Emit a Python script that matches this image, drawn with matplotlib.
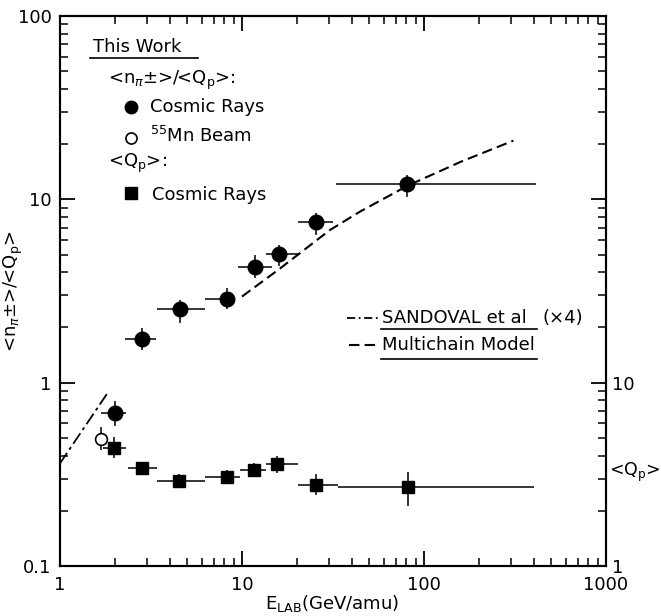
import matplotlib
matplotlib.use("Agg")
import matplotlib.pyplot as plt
from matplotlib.ticker import LogLocator, NullFormatter, FixedLocator, FixedFormatter
import numpy as np

# ---------------- data ----------------
# <n_pi±>/<Qp>, cosmic rays (filled circles)
circ_x = [2.0, 2.82, 4.57, 8.3, 11.8, 15.9, 25.5, 81.0]
circ_y = [0.685, 1.72, 2.52, 2.87, 4.29, 5.04, 7.56, 12.1]
circ_xlo = [1.69, 2.28, 3.4, 6.3, 9.45, 13.5, 20.4, 33.0]
circ_xhi = [2.3, 3.37, 6.26, 9.2, 14.6, 20.8, 31.5, 410.0]
circ_ylo = [0.582, 1.51, 2.12, 2.52, 3.74, 4.33, 6.4, 10.35]
circ_yhi = [0.795, 1.99, 2.83, 3.29, 4.97, 5.64, 8.45, 13.6]

# 55Mn beam (open circle)
mn_x = [1.67]
mn_y = [0.493]
mn_ylo = [0.43]
mn_yhi = [0.574]

# <Qp>, cosmic rays (filled squares)
sq_x = [1.99, 2.81, 4.5, 8.24, 11.6, 15.5, 25.5, 82.0]
sq_y = [0.438, 0.344, 0.292, 0.307, 0.334, 0.36, 0.277, 0.271]
sq_xlo = [1.73, 2.37, 3.4, 6.26, 9.73, 13.5, 20.4, 33.8]
sq_xhi = [2.3, 3.4, 6.26, 9.73, 13.5, 20.4, 33.8, 404.0]
sq_ylo = [0.39, 0.314, 0.266, 0.28, 0.307, 0.32, 0.244, 0.213]
sq_yhi = [0.507, 0.37, 0.316, 0.334, 0.366, 0.4, 0.316, 0.325]

# Multichain model (dashed)
mc_x = [10.0, 16.2, 30.4, 44.5, 81.7, 161.0, 310.0]
mc_y = [2.95, 4.2, 6.8, 8.57, 11.9, 16.1, 20.9]

# Sandoval et al (x4) (dash-dot)
sd_x = [1.0, 1.83]
sd_y = [0.363, 0.882]

x_ticks = [1, 10, 100, 1000]
x_ticklabels = ["1", "10", "100", "1000"]
yl_ticks = [0.1, 1, 10, 100]
yl_ticklabels = ["0.1", "1", "10", "100"]
yr_ticks = [1, 10, 100]
yr_ticklabels = ["1", "10", ""]

# ---------------- figure ----------------
plt.rcParams['font.family'] = ['DejaVu Sans']
plt.rcParams['mathtext.fontset'] = 'dejavusans'
FS = 13
DASH = (5, 2.5)
DASHDOT = (7, 2.2, 1.7, 2.2)

W, H = 661, 616
fig = plt.figure(figsize=(W / 100, H / 100), dpi=100)
L, R, T, B = 60, 606, 16, 566
ax = fig.add_axes([L / W, (H - B) / H, (R - L) / W, (B - T) / H])

def ax_xy(px, py):
    return ((px - L) / (R - L), (B - py) / (B - T))

ax.set_xscale('log')
ax.set_yscale('log')
ax.set_xlim(1, 1000)
ax.set_ylim(0.1, 100)

def errs(v, lo, hi):
    v = np.asarray(v); lo = np.asarray(lo); hi = np.asarray(hi)
    return [v - lo, hi - v]

ekw = dict(ecolor='black', elinewidth=1.1, capsize=0, linestyle='none', color='black')

ax.errorbar(circ_x, circ_y, xerr=errs(circ_x, circ_xlo, circ_xhi),
            yerr=errs(circ_y, circ_ylo, circ_yhi), marker='o', ms=10.5,
            mfc='black', mec='black', **ekw)
ax.errorbar(mn_x, mn_y, yerr=errs(mn_y, mn_ylo, mn_yhi), marker='o', ms=8.5,
            mfc='white', mec='black', mew=1.2, **ekw)
ax.errorbar(sq_x, sq_y, xerr=errs(sq_x, sq_xlo, sq_xhi),
            yerr=errs(sq_y, sq_ylo, sq_yhi), marker='s', ms=9,
            mfc='black', mec='black', **ekw)

ax.plot(mc_x, mc_y, color='black', lw=1.5, dashes=DASH)
ax.plot(sd_x, sd_y, color='black', lw=1.3, dashes=DASHDOT)

# ---------------- axes styling ----------------
for s in ax.spines.values():
    s.set_linewidth(1.5)

ax.xaxis.set_major_locator(FixedLocator(x_ticks))
ax.xaxis.set_major_formatter(FixedFormatter(x_ticklabels))
ax.xaxis.set_minor_locator(LogLocator(base=10, subs=np.arange(2, 10)))
ax.xaxis.set_minor_formatter(NullFormatter())
ax.yaxis.set_major_locator(FixedLocator(yl_ticks))
ax.yaxis.set_major_formatter(FixedFormatter(yl_ticklabels))
ax.yaxis.set_minor_locator(LogLocator(base=10, subs=np.arange(2, 10)))
ax.yaxis.set_minor_formatter(NullFormatter())

ax.tick_params(which='both', direction='in', top=True, right=False, labelsize=FS)
ax.tick_params(which='major', length=11, width=1.3)
ax.tick_params(which='minor', length=6, width=1.1)
ax.tick_params(axis='x', pad=7)
ax.tick_params(axis='y', pad=6)

ax2 = ax.twinx()
ax2.set_yscale('log')
ax2.set_ylim(1, 1000)
ax2.yaxis.set_major_locator(FixedLocator(yr_ticks))
ax2.yaxis.set_major_formatter(FixedFormatter(yr_ticklabels))
ax2.yaxis.set_minor_locator(LogLocator(base=10, subs=np.arange(2, 10)))
ax2.yaxis.set_minor_formatter(NullFormatter())
ax2.tick_params(which='both', direction='in', labelsize=FS, pad=4)
ax2.tick_params(which='major', length=11, width=1.3)
ax2.tick_params(which='minor', length=6, width=1.1)
for s in ax2.spines.values():
    s.set_linewidth(1.5)

# axis labels
ax.set_ylabel('<n$_{\\pi}$±>/<Q$_{\\rm p}$>', fontsize=FS)
ax.yaxis.label.set_va('center')
ax.yaxis.set_label_coords((13 - L) / (R - L), 0.5)
ax.text(*ax_xy(609, 472), '<Q$_{\\rm p}$>', transform=ax.transAxes,
        fontsize=FS - 0.5, ha='left', va='center')
fig.text(332 / W, (H - 604) / H, 'E$_{\\rm LAB}$(GeV/amu)', fontsize=FS,
         ha='center', va='center')

# ---------------- in-plot key (left) ----------------
tkw = dict(transform=ax.transAxes, fontsize=FS, va='center', ha='left')
ax.text(*ax_xy(93, 47), 'This Work', **tkw)
ax.plot([ax_xy(90, 0)[0], ax_xy(198, 0)[0]], [ax_xy(0, 58)[1]] * 2,
        transform=ax.transAxes, color='black', lw=1.2, clip_on=False)
ax.text(*ax_xy(108, 80), '<n$_{\\pi}$±>/<Q$_{\\rm p}$>:', **tkw)
ax.plot(*ax_xy(131, 107), marker='o', ms=9, color='black', transform=ax.transAxes)
ax.text(*ax_xy(150, 107), 'Cosmic Rays', **tkw)
ax.plot(*ax_xy(131, 138), marker='o', ms=8, mfc='white', mec='black', mew=1.2,
        transform=ax.transAxes)
ax.text(*ax_xy(150, 136), '$^{55}$Mn Beam', **tkw)
ax.text(*ax_xy(108, 163), '<Q$_{\\rm p}$>:', **tkw)
ax.plot(*ax_xy(131, 193), marker='s', ms=8.5, color='black', transform=ax.transAxes)
ax.text(*ax_xy(152, 195), 'Cosmic Rays', **tkw)

# ---------------- in-plot key (right) ----------------
ax.plot([ax_xy(347, 0)[0], ax_xy(378, 0)[0]], [ax_xy(0, 318)[1]] * 2,
        transform=ax.transAxes, color='black', lw=1.3, dashes=(4.5, 2, 1, 2))
ax.text(*ax_xy(382, 318), 'SANDOVAL et al', **tkw)
ax.text(*ax_xy(542, 318), '(×4)', **tkw)
ax.plot([ax_xy(381, 0)[0], ax_xy(537, 0)[0]], [ax_xy(0, 329)[1]] * 2,
        transform=ax.transAxes, color='black', lw=1.2)
ax.plot([ax_xy(349, 0)[0], ax_xy(378, 0)[0]], [ax_xy(0, 345)[1]] * 2,
        transform=ax.transAxes, color='black', lw=1.5, dashes=DASH)
ax.text(*ax_xy(382, 345), 'Multichain Model', **tkw)
ax.plot([ax_xy(381, 0)[0], ax_xy(537, 0)[0]], [ax_xy(0, 359)[1]] * 2,
        transform=ax.transAxes, color='black', lw=1.2)

fig.savefig('out.png', dpi=100)
